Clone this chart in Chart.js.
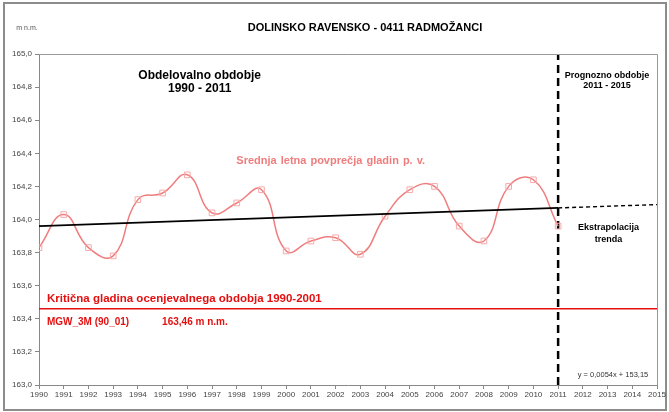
<!DOCTYPE html>
<html>
<head>
<meta charset="utf-8">
<script src="https://cdn.jsdelivr.net/npm/chart.js@4"></script>
<style>
  html, body { margin: 0; padding: 0; background: #fff; }
  #wrap { width: 669px; height: 412px; position: relative; }
</style>
</head>
<body>
<div id="wrap"><canvas id="levelChart" width="669" height="412"></canvas></div>
<script>
// yearly mean groundwater levels (m n.m.)
const years = [1990, 1991, 1992, 1993, 1994, 1995, 1996, 1997, 1998, 1999, 2000,
               2001, 2002, 2003, 2004, 2005, 2006, 2007, 2008, 2009, 2010, 2011];
const levels = [163.83, 164.03, 163.83, 163.78, 164.12, 164.16, 164.27, 164.04, 164.10, 164.18, 163.81,
                163.87, 163.89, 163.79, 164.02, 164.18, 164.20, 163.96, 163.87, 164.20, 164.24, 163.96];

const trendYears = [1990, 2011];
const trendValues = [163.96, 164.07];
const extrapYears = [2011, 2015];
const extrapValues = [164.07, 164.09];

// critical level MGW_3M (90_01)
const criticalYears = [1990, 2015];
const criticalLevel = 163.46;

const splitYear = 2011;
const yMin = 163.0, yMax = 165.0, yStep = 0.2;
const xMin = 1990, xMax = 2015;

const pts = (xs, ys) => xs.map((x, i) => ({ x: x, y: Array.isArray(ys) ? ys[i] : ys }));

const FONT = 'Liberation Sans, Arial, sans-serif';
const PINK = 'rgb(240,125,125)';
const RED = '#e41010';

const decor = {
    id: 'decor',
    beforeDraw(chart) {
        const c = chart.ctx;
        c.save();
        c.fillStyle = '#fff';
        c.fillRect(0, 0, chart.width, chart.height);
        // outer frame
        c.strokeStyle = '#8c8c8c';
        c.lineWidth = 2;
        c.strokeRect(4, 3, chart.width - 7, chart.height - 5);
        c.restore();
    },
    afterDatasetsDraw(chart) {
        const c = chart.ctx;
        const a = chart.chartArea;
        const xs = chart.scales.x, ys = chart.scales.y;
        const X = v => xs.getPixelForValue(v);
        const Y = v => ys.getPixelForValue(v);
        c.save();
        // plot area border top / right
        c.strokeStyle = '#999';
        c.lineWidth = 1;
        c.beginPath();
        c.moveTo(a.left, a.top + 0.5);
        c.lineTo(a.right + 0.5, a.top + 0.5);
        c.lineTo(a.right + 0.5, a.bottom);
        c.stroke();

        c.textBaseline = 'middle';
        // title + unit
        c.fillStyle = '#000';
        c.textAlign = 'center';
        c.font = 'bold 11px "Liberation Sans Narrow", ' + FONT;
        c.fillText('DOLINSKO RAVENSKO - 0411 RADMOŽANCI', 365, 28);
        c.fillStyle = '#555';
        c.font = '7px ' + FONT;
        c.fillText('m n.m.', 27, 28);

        c.fillStyle = '#000';
        c.font = 'bold 12px ' + FONT;
        c.fillText('Obdelovalno obdobje', X(1996.5), Y(164.867));
        c.fillText('1990 - 2011', X(1996.5), Y(164.789));

        c.font = 'bold 9px ' + FONT;
        c.fillText('Prognozno obdobje', X(2012.98), Y(164.873));
        c.fillText('2011 - 2015', X(2012.98), Y(164.807));
        c.fillText('Ekstrapolacija', X(2013.04), Y(163.949));
        c.fillText('trenda', X(2013.04), Y(163.882));

        c.fillStyle = PINK;
        c.font = 'bold 11px ' + FONT;
        c.wordSpacing = '1px';
        c.fillText('Srednja letna povprečja gladin p. v.', X(2001.8), Y(164.353));
        c.wordSpacing = '0px';

        c.fillStyle = '#333';
        c.font = '7.5px ' + FONT;
        c.fillText('y = 0,0054x + 153,15', X(2013.22), Y(163.06));

        c.textAlign = 'left';
        c.fillStyle = RED;
        c.font = 'bold 11.5px ' + FONT;
        c.fillText('Kritična gladina ocenjevalnega obdobja 1990-2001', X(1990.32), Y(163.52));
        c.font = 'bold 10px ' + FONT;
        c.fillText('MGW_3M (90_01)', X(1990.32), Y(163.381));
        c.fillText('163,46 m n.m.', X(1994.98), Y(163.381));
        c.restore();
    }
};

const ctx = document.getElementById('levelChart').getContext('2d');
new Chart(ctx, {
    type: 'line',
    data: {
        datasets: [
            {
                label: 'Kritična gladina',
                data: pts(criticalYears, criticalLevel),
                borderColor: RED,
                borderWidth: 1.5,
                pointRadius: 0,
            },
            {
                label: 'Trend',
                data: pts(trendYears, trendValues),
                borderColor: '#000',
                borderWidth: 1.6,
                pointRadius: 0,
            },
            {
                label: 'Ekstrapolacija trenda',
                data: pts(extrapYears, extrapValues),
                borderColor: '#000',
                borderWidth: 1.4,
                borderDash: [4, 3],
                pointRadius: 0,
                clip: false,
            },
            {
                label: 'Srednja letna povprečja gladin p. v.',
                data: pts(years, levels),
                borderColor: PINK,
                borderWidth: 1.5,
                tension: 0.45,
                pointStyle: 'rect',
                pointRadius: 4,
                pointBorderWidth: 1,
                pointBorderColor: 'rgb(246,170,170)',
                pointBackgroundColor: 'rgba(255,255,255,0)',
            },
            {
                label: 'Meja',
                data: pts([splitYear, splitYear], [yMin, yMax]),
                borderColor: '#000',
                borderWidth: 2.5,
                borderDash: [8, 5],
                pointRadius: 0,
                clip: false,
            },
        ],
    },
    options: {
        responsive: false,
        animation: false,
        events: [],
        layout: { padding: { left: 0, top: 54, right: 12, bottom: 0 } },
        plugins: { legend: { display: false }, tooltip: { enabled: false } },
        scales: {
            x: {
                type: 'linear',
                min: xMin,
                max: xMax,
                afterFit(s) { s.height = 27; },
                border: { color: '#888', width: 1 },
                grid: { drawOnChartArea: false, tickLength: 4, color: '#888' },
                ticks: {
                    stepSize: 1,
                    autoSkip: false,
                    maxRotation: 0,
                    padding: 1,
                    color: '#444',
                    font: { family: FONT, size: 8 },
                    callback: v => String(v),
                },
            },
            y: {
                min: yMin,
                max: yMax,
                afterFit(s) { s.width = 39; },
                border: { color: '#888', width: 1 },
                grid: { drawOnChartArea: false, tickLength: 4, color: '#888' },
                ticks: {
                    stepSize: yStep,
                    padding: 3,
                    color: '#444',
                    font: { family: FONT, size: 8 },
                    callback: v => v.toFixed(1).replace('.', ','),
                },
            },
        },
    },
    plugins: [decor],
});
</script>
</body>
</html>
